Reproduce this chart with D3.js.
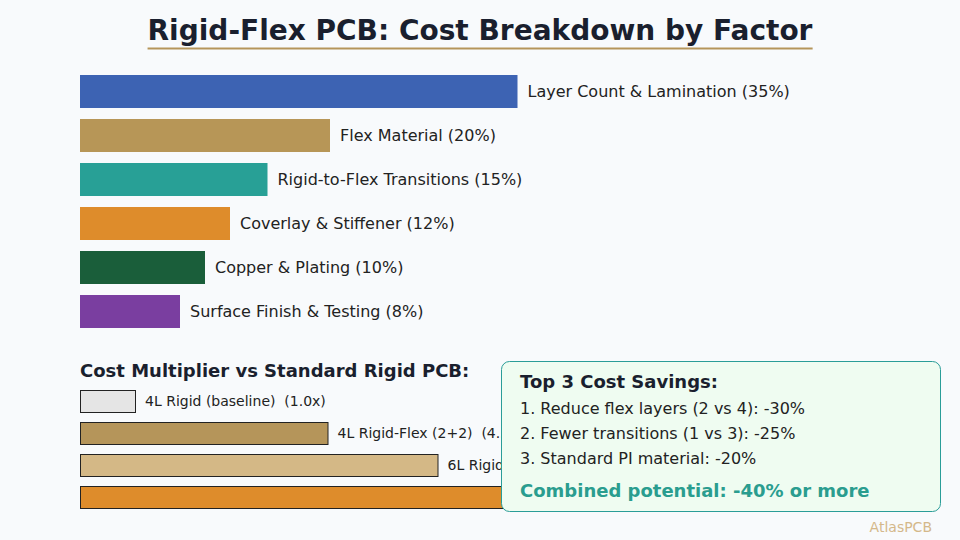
<!DOCTYPE html>
<html><head><meta charset="utf-8">
<script src="https://cdn.jsdelivr.net/npm/d3@7"></script>
<style>body{margin:0;background:#f8fafc;}svg{display:block;font-family:"DejaVu Sans",sans-serif;}text{white-space:pre;}</style>
</head><body><svg id="c" width="960" height="540"></svg>
<script>
const factors = ["Layer Count & Lamination","Flex Material","Rigid-to-Flex Transitions","Coverlay & Stiffener","Copper & Plating","Surface Finish & Testing"];
const shares = [35,20,15,12,10,8];
const factorColors = ["#3d63b3","#b79657","#28a096","#de8c2b","#1a5e3a","#7a3ea0"];
const boards = ["4L Rigid (baseline)","4L Rigid-Flex (2+2)","6L Rigid-Flex (2+2+2)","8L Rigid-Flex (3+2+3)"];
const multipliers = [1.0,4.5,6.5,9.0];
const boardColors = ["#e5e5e5","#b5955a","#d4b886","#de8c2b"];
const savings = ["1. Reduce flex layers (2 vs 4): -30%","2. Fewer transitions (1 vs 3): -25%","3. Standard PI material: -20%"];

const svg = d3.select("#c");
svg.append("rect").attr("width",960).attr("height",540).attr("fill","#f8fafc");

const title = svg.append("text").attr("x",480).attr("y",40).attr("text-anchor","middle")
  .attr("font-size",28).attr("font-weight","bold").attr("fill","#1a1f2e")
  .text("Rigid-Flex PCB: Cost Breakdown by Factor");
const tb = title.node().getBBox();
svg.append("line").attr("x1",tb.x).attr("x2",tb.x+tb.width).attr("y1",48.5).attr("y2",48.5)
  .attr("stroke","#b5955a").attr("stroke-width",2);

const x = d3.scaleLinear().domain([0,40]).range([80,580]);
const y = d3.scaleBand().domain(factors).range([75,328]).paddingInner(0.25).paddingOuter(0);
const g1 = svg.append("g");
g1.selectAll("rect").data(factors).join("rect")
  .attr("x",x(0)).attr("y",d=>y(d)).attr("height",y.bandwidth())
  .attr("width",(d,i)=>x(shares[i])-x(0)).attr("fill",(d,i)=>factorColors[i]);
g1.selectAll("text").data(factors).join("text")
  .attr("x",(d,i)=>x(shares[i])+10).attr("y",d=>y(d)+y.bandwidth()/2).attr("dy","0.35em")
  .attr("font-size",16).attr("fill","#222").text((d,i)=>`${d} (${shares[i]}%)`);

svg.append("text").attr("x",80).attr("y",377).attr("font-size",18).attr("font-weight","bold")
  .attr("fill","#1a1f2e").text("Cost Multiplier vs Standard Rigid PCB:");

const xm = d3.scaleLinear().domain([0,1]).range([80,135]);
const ym = d3.scaleBand().domain(boards).range([390,508]).paddingInner(10/32).paddingOuter(0);
const g2 = svg.append("g");
g2.selectAll("rect").data(boards).join("rect")
  .attr("x",xm(0)+0.5).attr("y",d=>ym(d)+0.5).attr("height",ym.bandwidth())
  .attr("width",(d,i)=>xm(multipliers[i])-xm(0)).attr("fill",(d,i)=>boardColors[i])
  .attr("stroke","#222").attr("stroke-width",1);
g2.selectAll("text").data(boards).join("text")
  .attr("x",(d,i)=>xm(multipliers[i])+10).attr("y",d=>ym(d)+ym.bandwidth()/2).attr("dy","0.35em")
  .attr("font-size",14).attr("fill","#222").text((d,i)=>`${d}  (${multipliers[i].toFixed(1)}x)`);

const box = svg.append("g");
box.append("rect").attr("x",501.5).attr("y",361.5).attr("width",439).attr("height",150).attr("rx",8)
  .attr("fill","#effcf1").attr("stroke","#2a9d98").attr("stroke-width",1);
box.append("text").attr("x",520).attr("y",388).attr("font-size",18).attr("font-weight","bold")
  .attr("fill","#1a1f2e").text("Top 3 Cost Savings:");
box.selectAll("text.s").data(savings).join("text").attr("class","s")
  .attr("x",520).attr("y",(d,i)=>414+i*25).attr("font-size",16).attr("fill","#222").text(d=>d);
box.append("text").attr("x",520).attr("y",497).attr("font-size",18).attr("font-weight","bold")
  .attr("fill","#2a9d8f").text("Combined potential: -40% or more");

svg.append("text").attr("x",932).attr("y",532).attr("text-anchor","end").attr("font-size",14)
  .attr("fill","#d4b88a").text("AtlasPCB");
</script></body></html>
